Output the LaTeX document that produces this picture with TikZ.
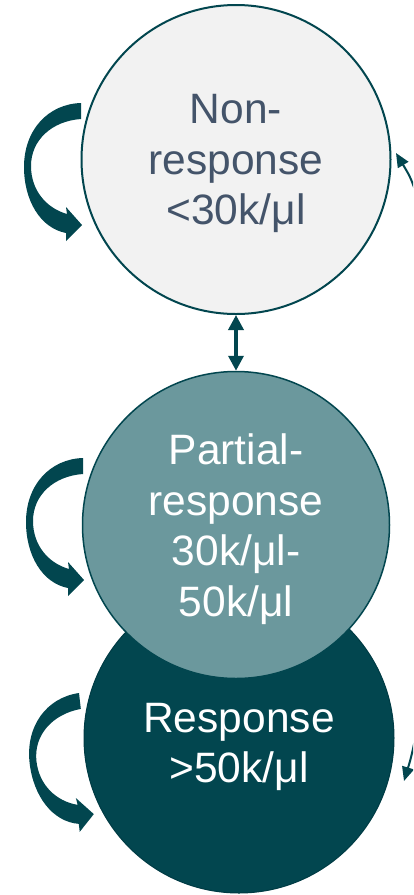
\documentclass[tikz,border=0pt]{standalone}
\usepackage{fontspec}
\setmainfont{Liberation Sans}
\usetikzlibrary{arrows.meta}
\definecolor{darkteal}{HTML}{02464F}
\definecolor{darkteal2}{HTML}{003B44}
\definecolor{midteal}{HTML}{6B989D}
\definecolor{lightgrey}{HTML}{F2F2F2}
\definecolor{slatetext}{HTML}{44546A}
\tikzset{
  state/.style={circle, align=center, inner sep=0pt, text depth=0pt,
    font=\fontsize{42.5pt}{50.5pt}\selectfont},
  selfloop/.pic={
    \fill[darkteal]
      (0,0) -- (0,16)
      .. controls (-29,18) and (-50,37) .. (-50,63)
      .. controls (-50,87) and (-35,105) .. (-14,111)
      -- (-15,104) -- (1,122) -- (-15,138) -- (-15,130)
      .. controls (-41,125) and (-57,97) .. (-57,64)
      .. controls (-57,27) and (-33,1) .. (0,0) -- cycle;
  },
  thinarrow/.style={draw=darkteal, line width=2pt,
    -{Triangle[width=12pt,length=14pt]}},
  dblarrow/.style={draw=darkteal, line width=3.5pt,
    {Triangle[width=15pt,length=15pt]}-{Triangle[width=15pt,length=15pt]}}
}
\begin{document}
\begin{tikzpicture}[x=1pt,y=-1pt]
\useasboundingbox (0,0) rectangle (413,895);
\clip (0,0) rectangle (413,895);
\fill[white] (0,0) rectangle (413,895);

% circles
\node[state, minimum size=309pt, fill=lightgrey, draw=darkteal, line width=2pt,
  text=slatetext] (non) at (236,159.5) {Non-\\response\\<30k/μl};
\node[state, minimum size=310pt, fill=darkteal, draw=darkteal2, line width=1pt,
  text=white] (resp) at (239,738) {\rule{0pt}{39pt}Response\\>50k/μl};
\node[state, minimum size=307pt, fill=midteal, draw=darkteal, line width=1.5pt,
  text=white] (part) at (236,525) {Partial-\\response\\30k/μl-\\50k/μl};

% self loops on the left
\pic at (81,103) {selfloop};
\pic at (83,458) {selfloop};
\pic[rotate=6.5] at (79,693) {selfloop};

% double arrow between non-response and partial response
\draw[dblarrow] (non.south) -- (part.north);

% arrows entering from the right edge
\coordinate (rtop) at (420,205);
\coordinate (rtoptip) at (396,153);
\coordinate (rbot) at (416,735);
\coordinate (rbottip) at (404,781);
\draw[thinarrow] (rtop) .. controls (411,178) .. (rtoptip);
\draw[thinarrow] (rbot) .. controls (411,758) .. (rbottip);
\end{tikzpicture}
\end{document}
